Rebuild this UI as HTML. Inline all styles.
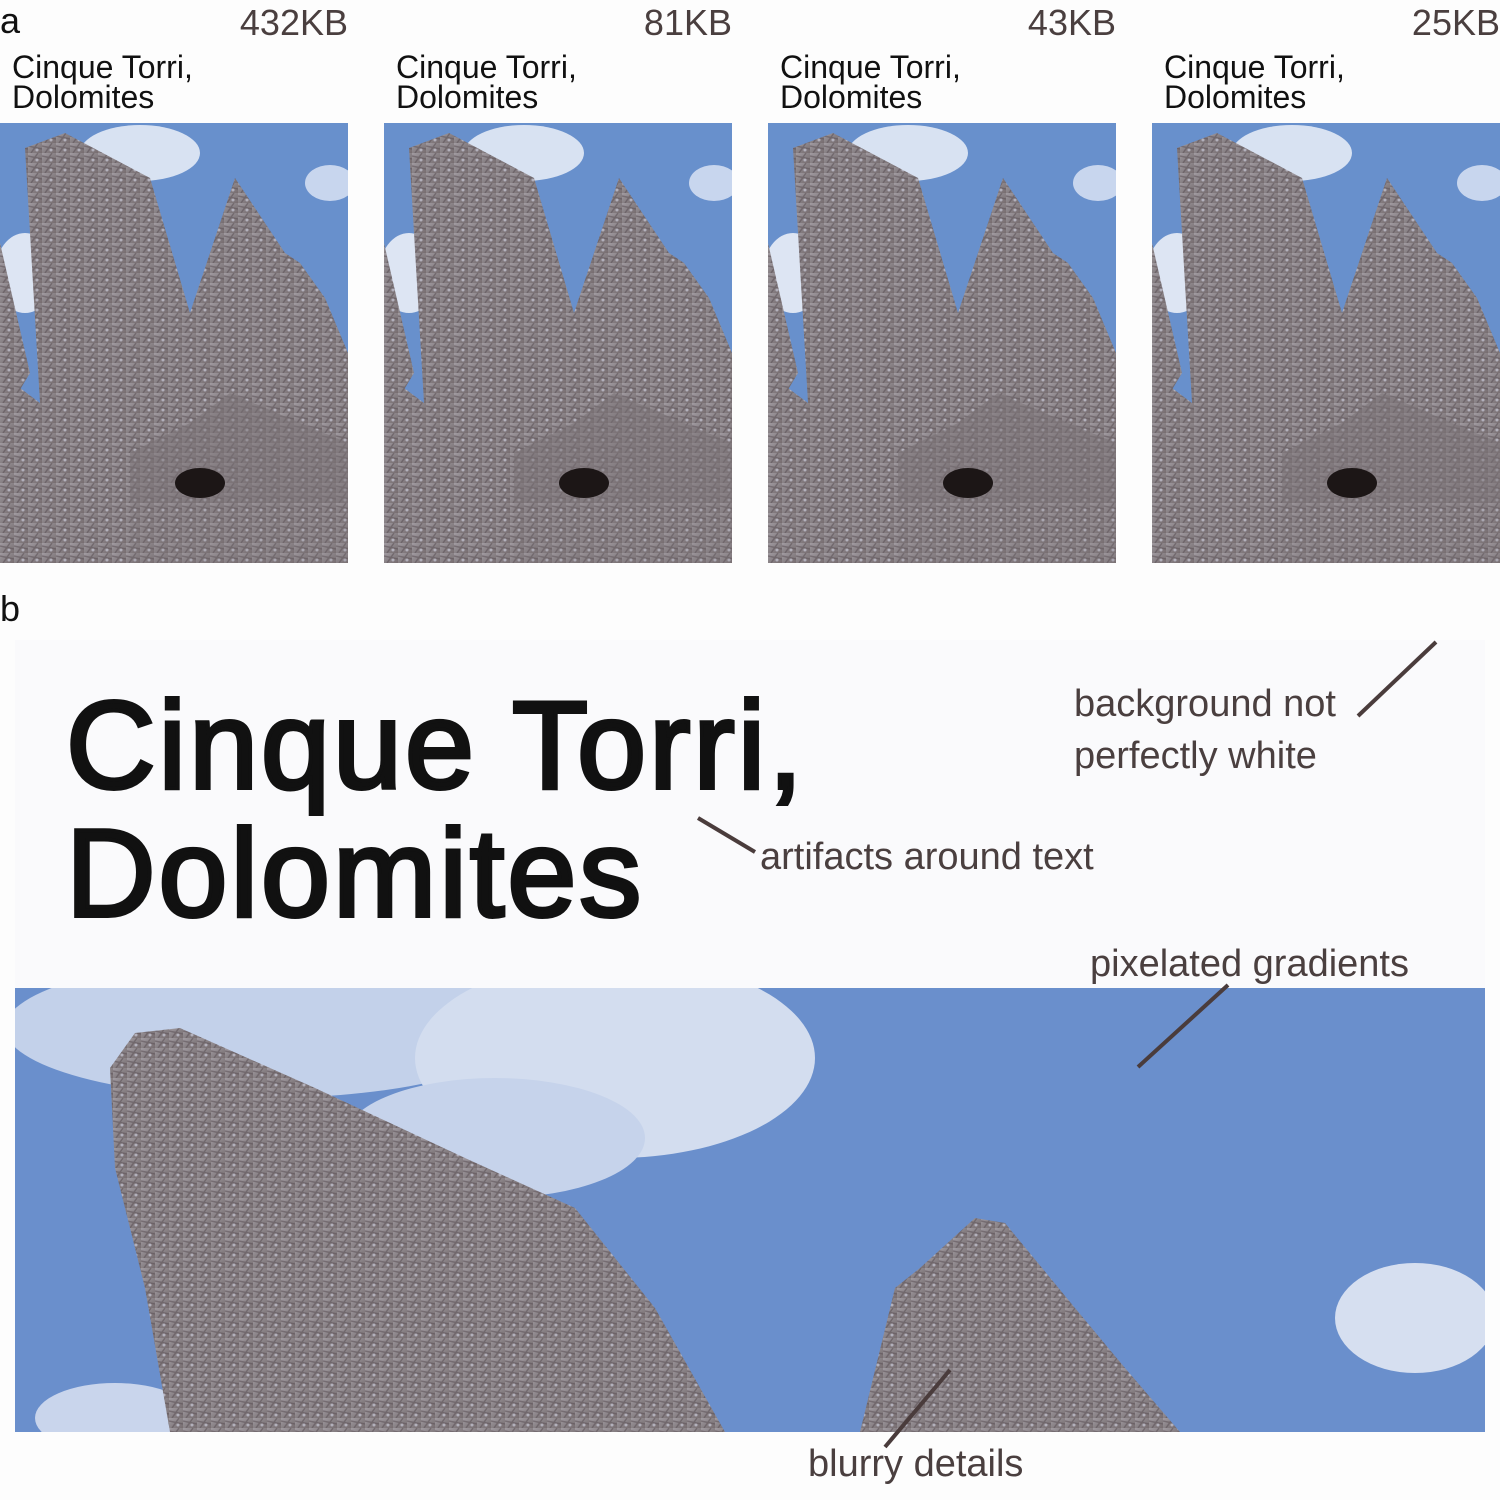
<!DOCTYPE html>
<html><head><meta charset="utf-8"><style>
html,body{margin:0;padding:0;background:#fdfdfd;width:1500px;height:1500px;overflow:hidden;font-family:"Liberation Sans",sans-serif;}
.abs{position:absolute;}
.size{font-size:36px;color:#4a3f3f;text-align:right;width:348px;top:2px;}
.cap{font-size:32px;line-height:30px;color:#111;top:52px;}
.ann{font-size:38px;color:#4a3f3f;}
</style></head><body>
<svg width="0" height="0" style="position:absolute">
<defs>
<linearGradient id="rock" x1="0" y1="0" x2="1" y2="1"><stop offset="0" stop-color="#a29ca2"/><stop offset="0.5" stop-color="#898286"/><stop offset="1" stop-color="#766c6f"/></linearGradient>
<pattern id="tex" width="14" height="10" patternUnits="userSpaceOnUse"><rect width="14" height="10" fill="url(#rock)"/><path d="M0 3 L14 6 M3 10 L10 0" stroke="#5a5055" stroke-width="1.5" opacity="0.55"/><circle cx="9" cy="7" r="1.5" fill="#c8c8d6" opacity="0.7"/></pattern>
<g id="photo">
<rect width="348" height="440" fill="#6890cc"/>
<ellipse cx="140" cy="30" rx="60" ry="28" fill="#d8e2f2"/>
<ellipse cx="25" cy="150" rx="30" ry="40" fill="#dde5f3"/>
<ellipse cx="330" cy="60" rx="25" ry="18" fill="#c8d6ee"/>
<polygon points="0,120 30,250 0,300" fill="url(#tex)"/>
<polygon points="0,440 0,250 40,280 25,25 65,10 150,55 190,190 235,55 285,130 300,140 325,175 348,230 348,440" fill="url(#tex)"/>
<polygon points="130,330 190,300 230,270 300,300 348,320 348,440 130,440" fill="#7a7276" opacity="0.5"/>
<ellipse cx="200" cy="360" rx="25" ry="15" fill="#1c1616"/>
<rect y="380" width="348" height="60" fill="url(#tex)" opacity="0.7"/>
</g>
</defs></svg>

<div class="abs" style="left:0;top:0;font-size:36px;color:#111">a</div>

<div class="abs size" style="left:0">432KB</div>
<div class="abs size" style="left:384px">81KB</div>
<div class="abs size" style="left:768px">43KB</div>
<div class="abs size" style="left:1152px">25KB</div>

<div class="abs cap" style="left:12px">Cinque Torri,<br>Dolomites</div>
<div class="abs cap" style="left:396px">Cinque Torri,<br>Dolomites</div>
<div class="abs cap" style="left:780px">Cinque Torri,<br>Dolomites</div>
<div class="abs cap" style="left:1164px">Cinque Torri,<br>Dolomites</div>

<svg class="abs" style="left:0;top:123px" width="348" height="440"><use href="#photo"/></svg>
<svg class="abs" style="left:384px;top:123px" width="348" height="440"><use href="#photo"/></svg>
<svg class="abs" style="left:768px;top:123px" width="348" height="440"><use href="#photo"/></svg>
<svg class="abs" style="left:1152px;top:123px" width="348" height="440"><use href="#photo"/></svg>

<div class="abs" style="left:0;top:588px;font-size:36px;color:#111">b</div>

<div class="abs" style="left:15px;top:640px;width:1470px;height:348px;background:#fafafc"></div>
<div class="abs" style="left:66px;top:682px;font-size:124px;line-height:128px;color:#111;-webkit-text-stroke:4px #111;letter-spacing:3px">Cinque Torri,<br>Dolomites</div>

<svg class="abs" style="left:15px;top:988px" width="1470" height="444">
<rect width="1470" height="444" fill="#6a8fcc"/>
<ellipse cx="250" cy="40" rx="260" ry="70" fill="#c3d1ea"/>
<ellipse cx="600" cy="70" rx="200" ry="100" fill="#d3ddef"/>
<ellipse cx="480" cy="150" rx="150" ry="60" fill="#c6d3eb"/>
<ellipse cx="1400" cy="330" rx="80" ry="55" fill="#d6dff0"/>
<ellipse cx="100" cy="430" rx="80" ry="35" fill="#c9d5ec"/>
<polygon points="95,80 120,45 165,40 300,100 450,170 560,220 640,320 710,444 155,444 130,300 100,180" fill="url(#tex)"/>
<polygon points="845,444 880,300 905,280 960,230 990,235 1060,320 1110,380 1165,444" fill="url(#tex)"/>
</svg>

<svg class="abs" style="left:0;top:0" width="1500" height="1500">
<g stroke="#4a3c3c" stroke-width="4" fill="none">
<line x1="1358" y1="716" x2="1436" y2="642"/>
<line x1="698" y1="818" x2="755" y2="852"/>
<line x1="1138" y1="1067" x2="1228" y2="985"/>
<line x1="885" y1="1447" x2="950" y2="1370"/>
</g></svg>

<div class="abs ann" style="left:1074px;top:678px;line-height:52px">background not<br>perfectly white</div>
<div class="abs ann" style="left:760px;top:836px">artifacts around text</div>
<div class="abs ann" style="left:1090px;top:943px">pixelated gradients</div>
<div class="abs ann" style="left:808px;top:1443px">blurry details</div>
</body></html>
